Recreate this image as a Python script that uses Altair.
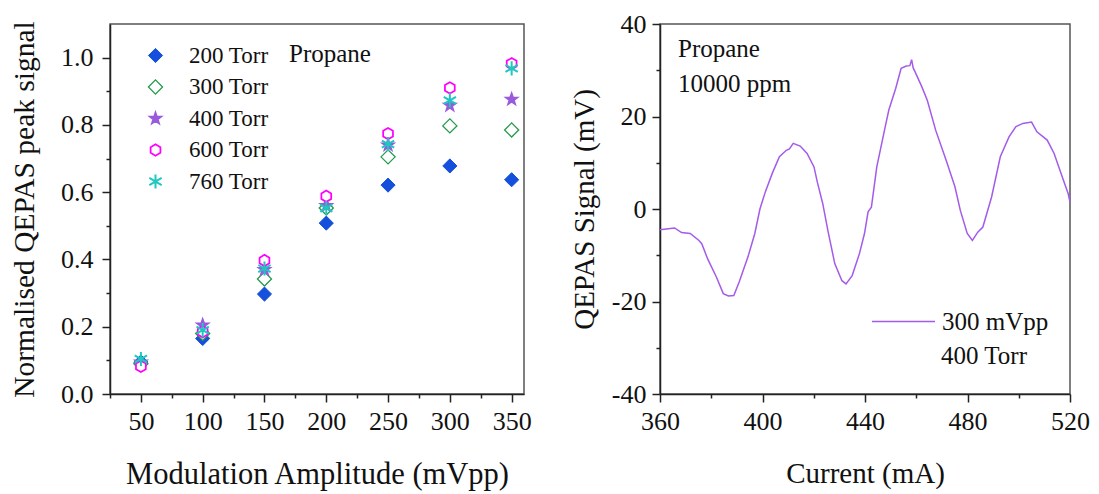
import altair as alt
import pandas as pd

FONT = "Liberation Serif"

# ---------------- left panel data ----------------
amplitude = [50, 100, 150, 200, 250, 300, 350]
pressures = ["200 Torr", "300 Torr", "400 Torr", "600 Torr", "760 Torr"]
sig_200 = [0.095, 0.165, 0.297, 0.508, 0.621, 0.678, 0.637]
sig_300 = [0.090, 0.180, 0.342, 0.553, 0.705, 0.797, 0.785]
sig_400 = [0.095, 0.205, 0.370, 0.560, 0.740, 0.858, 0.876]
sig_600 = [0.082, 0.185, 0.397, 0.588, 0.774, 0.910, 0.982]
sig_760 = [0.104, 0.190, 0.373, 0.553, 0.743, 0.873, 0.968]

# ---------------- right panel data ----------------
current = [360, 365.7, 368.4, 371.8, 375.2, 376.3, 378.6, 382, 384.7, 386.7, 388.8,
           390.9, 394.3, 397, 399, 401.1, 403.8, 406.6, 409.3, 410.5, 412, 414.7,
           417.4, 420.1, 421.4, 423.5, 425.5, 428.2, 431, 432.6, 435, 437.8, 439.8,
           441.2, 442.5, 444.6, 447.9, 449.3, 452, 454.1, 456.1, 457.5, 458.2, 458.8,
           459.5, 462.2, 464.3, 467.6, 471.7, 475.1, 477.2, 479.9, 481.9, 484, 486,
           489.4, 492.8, 496.2, 498.9, 501.6, 505, 507.1, 511.1, 513.8, 517.2, 519.3, 520]
signal = [-4.5, -4.1, -5.1, -5.3, -6.8, -7.5, -10.8, -14.7, -18.3, -18.8, -18.7,
          -15.8, -10.4, -5.3, 0.0, 3.7, 7.7, 11.3, 12.7, 13.0, 14.2, 13.6,
          12.0, 9.1, 5.8, 1.2, -4.6, -11.8, -15.5, -16.2, -14.4, -9.7, -5.3,
          -0.6, 0.4, 9.1, 17.8, 21.4, 26.1, 30.4, 30.9, 31.0, 32.3, 30.5,
          29.7, 26.4, 23.5, 17.0, 10.5, 4.8, -0.3, -5.3, -6.8, -5.0, -3.9,
          2.6, 11.3, 15.6, 17.8, 18.5, 18.8, 16.7, 14.9, 12.0, 6.6, 3.3, 1.5]
line_label = ["300 mVpp"]

# ---------------- styling ----------------
colors = ["#1550DC", "#22994A", "#9A5ADC", "#FF00FF", "#1CC8C0"]
fills = ["#1550DC", "white", "#9A5ADC", "white", "#1CC8C0"]
stroke_widths = [1, 2, 1, 2.5, 2.5]
STAR = ("M0,-0.9L0.212,-0.292L0.856,-0.278L0.342,0.112L0.529,0.728L0,0.36"
        "L-0.529,0.728L-0.342,0.112L-0.856,-0.278L-0.212,-0.292Z")
HEX = "M0,-0.8L0.693,-0.4L0.693,0.4L0,0.8L-0.693,0.4L-0.693,-0.4Z"
AST = "M0,-1L0,1M-0.87,-0.5L0.87,0.5M-0.87,0.5L0.87,-0.5"
shapes = ["diamond", "diamond", STAR, HEX, AST]

rows = []
for p, vals in zip(pressures, [sig_200, sig_300, sig_400, sig_600, sig_760]):
    for a, v in zip(amplitude, vals):
        rows.append({"amp": a, "sig": v, "p": p})
df_left = pd.DataFrame(rows)
df_right = pd.DataFrame({"cur": current, "mv": signal, "s": line_label * len(current)})

W1, W2, H = 414, 410, 370

legend_left = alt.Legend(
    title=None, orient="none", legendX=34, legendY=20, padding=0,
    labelFont=FONT, labelFontSize=23, labelColor="#111", labelOffset=22,
    rowPadding=7.5, symbolStrokeWidth=2, symbolSize=200, symbolOpacity=1,
)

xs_left = alt.Scale(domain=[25, 360], nice=False, zero=False)
ys_left = alt.Scale(domain=[0, 1.1], nice=False, zero=False)

pts = alt.Chart(df_left).mark_point(size=200, opacity=1, fillOpacity=1).encode(
    x=alt.X("amp:Q", scale=xs_left,
            axis=alt.Axis(orient="bottom", values=amplitude, title="Modulation Amplitude (mVpp)",
                          labelPadding=6, titlePadding=25, titleFontSize=30.5)),
    y=alt.Y("sig:Q", scale=ys_left,
            axis=alt.Axis(orient="left", values=[0, 0.2, 0.4, 0.6, 0.8, 1.0],
                          labelExpr="format(datum.value, '.1f')",
                          title="Normalised QEPAS peak signal",
                          labelPadding=9, titlePadding=21, titleFontSize=29.5)),
    shape=alt.Shape("p:N", scale=alt.Scale(domain=pressures, range=shapes), legend=legend_left),
    stroke=alt.Stroke("p:N", scale=alt.Scale(domain=pressures, range=colors), legend=legend_left),
    fill=alt.Fill("p:N", scale=alt.Scale(domain=pressures, range=fills), legend=legend_left),
    strokeWidth=alt.StrokeWidth("p:N", scale=alt.Scale(domain=pressures, range=stroke_widths),
                                legend=None),
)

minor_left = alt.Chart(df_left).mark_point(opacity=0).encode(
    x=alt.X("amp:Q", scale=xs_left,
            axis=alt.Axis(orient="bottom", values=[25, 75, 125, 175, 225, 275, 325],
                          labels=False, title=None, tickSize=4, domain=False)),
    y=alt.Y("sig:Q", scale=ys_left,
            axis=alt.Axis(orient="left", values=[0.1, 0.3, 0.5, 0.7, 0.9],
                          labels=False, title=None, tickSize=4, domain=False)),
)

propane_left = alt.Chart(pd.DataFrame({"t": ["Propane"]})).mark_text(
    font=FONT, fontSize=25, align="left", baseline="middle", color="#111"
).encode(text="t:N", x=alt.value(179), y=alt.value(29.5))

left = alt.layer(minor_left, pts, propane_left).resolve_axis(
    x="independent", y="independent"
).properties(width=W1, height=H)

# ---------------- right panel ----------------
xs_right = alt.Scale(domain=[360, 520], nice=False, zero=False)
ys_right = alt.Scale(domain=[-40, 40], nice=False, zero=False)

line = alt.Chart(df_right).mark_line(strokeWidth=1.5).encode(
    x=alt.X("cur:Q", scale=xs_right,
            axis=alt.Axis(orient="bottom", values=[360, 400, 440, 480, 520], title="Current (mA)",
                          labelPadding=6, titlePadding=25)),
    y=alt.Y("mv:Q", scale=ys_right,
            axis=alt.Axis(orient="left", values=[-40, -20, 0, 20, 40], labelExpr="datum.value",
                          title="QEPAS Signal (mV)", labelPadding=6, titlePadding=12)),
    color=alt.Color("s:N", scale=alt.Scale(domain=line_label, range=["#A35BEA"]),
                    legend=alt.Legend(title=None, orient="none", legendX=211, legendY=265,
                                      padding=0, labelFont=FONT, labelFontSize=25,
                                      labelColor="#111", labelOffset=6,
                                      symbolType="stroke", symbolSize=3969,
                                      symbolStrokeWidth=1.5)),
)

minor_right = alt.Chart(df_right).mark_point(opacity=0).encode(
    x=alt.X("cur:Q", scale=xs_right,
            axis=alt.Axis(orient="bottom", values=[380, 420, 460, 500],
                          labels=False, title=None, tickSize=4, domain=False)),
    y=alt.Y("mv:Q", scale=ys_right,
            axis=alt.Axis(orient="left", values=[-30, -10, 10, 30],
                          labels=False, title=None, tickSize=4, domain=False)),
)

ann = pd.DataFrame({"t": ["Propane", "10000 ppm", "400 Torr"],
                    "px": [18, 18, 281], "py": [25, 60, 332]})
ann_right = alt.Chart(ann).mark_text(
    font=FONT, fontSize=25, align="left", baseline="middle", color="#111"
).encode(text="t:N", x=alt.X("px:Q", scale=None), y=alt.Y("py:Q", scale=None))

right = alt.layer(minor_right, line, ann_right).resolve_axis(
    x="independent", y="independent"
).properties(width=W2, height=H)

chart = alt.hconcat(left, right, spacing=37).resolve_scale(
    color="independent", shape="independent", fill="independent", stroke="independent",
    strokeWidth="independent"
).resolve_legend(
    color="independent", shape="independent", fill="independent", stroke="independent"
).properties(
    padding={"left": 0, "top": 2, "right": 0, "bottom": 0}
).configure_view(stroke="#555", strokeWidth=1.5).configure_axis(
    domainColor="#222", domainWidth=1.5, tickColor="#222", tickWidth=1.5, tickSize=8,
    labelFont=FONT, labelFontSize=26, labelColor="#111", labelFlush=False,
    labelOverlap=False, titleFont=FONT, titleFontSize=29, titleFontWeight="normal",
    titleColor="#111", grid=False,
).configure_point(opacity=1)

chart.save("out.html", embed_options={"renderer": "svg", "actions": False})
